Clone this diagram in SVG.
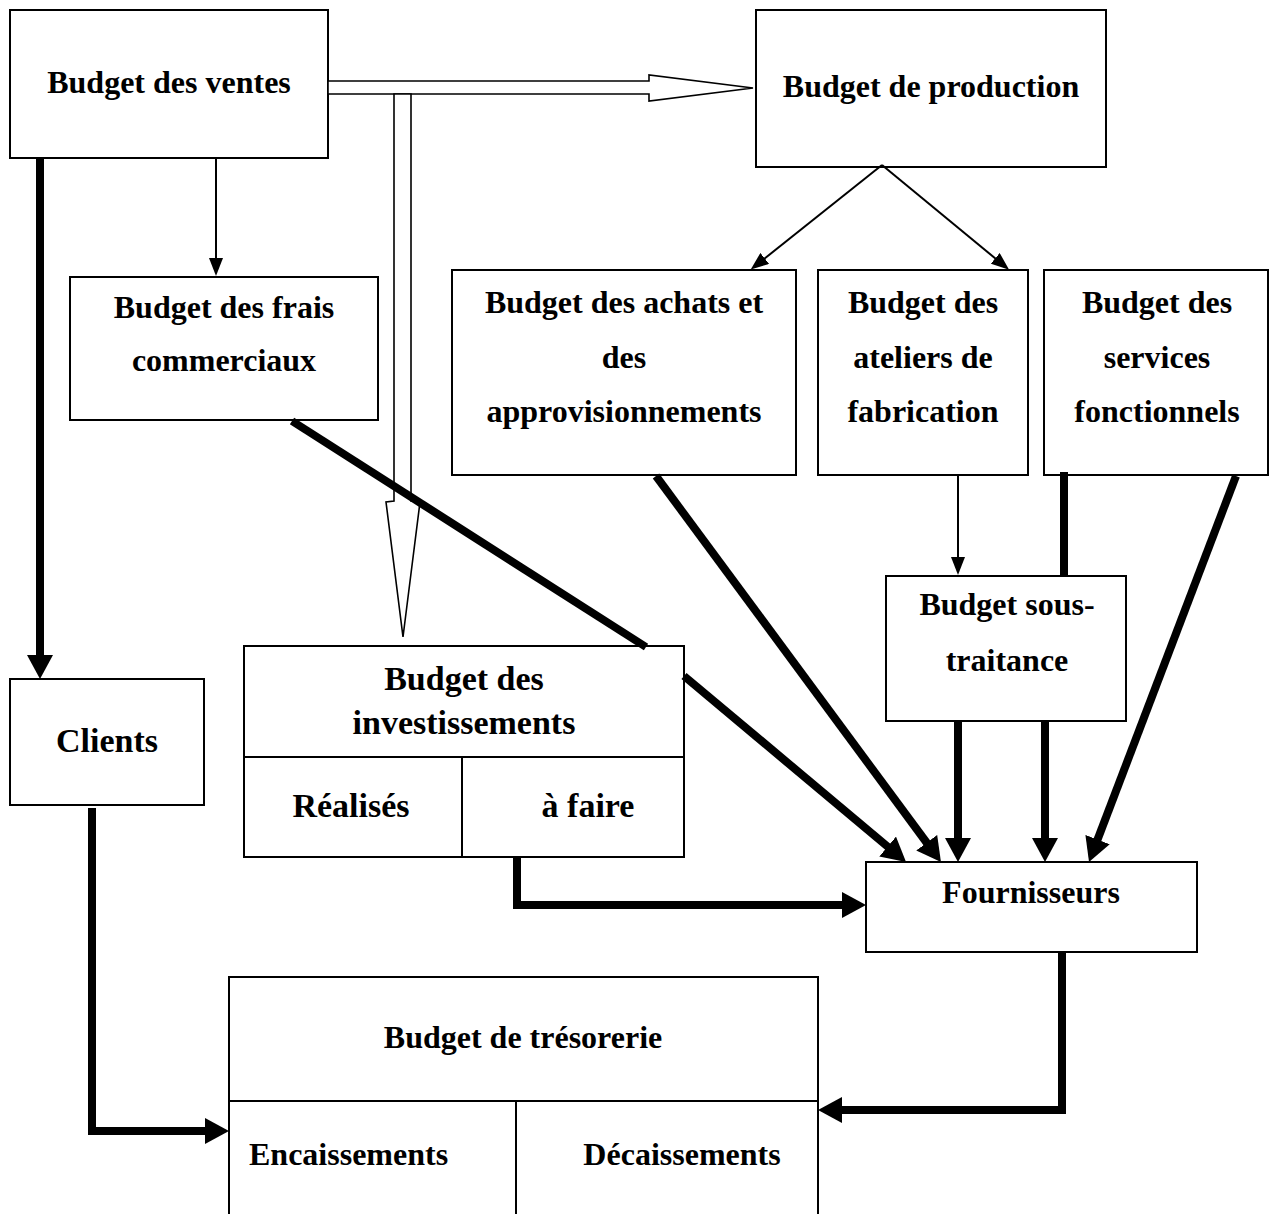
<svg xmlns="http://www.w3.org/2000/svg" width="1275" height="1214" viewBox="0 0 1275 1214">
  <style>
    .box { fill: #fff; stroke: #000; stroke-width: 2; }
    .div { fill: none; stroke: #000; stroke-width: 2; }
    .lbl { font-family: "Liberation Serif", "Times New Roman", serif; font-weight: bold; font-size: 32px; fill: #000; text-anchor: middle; }
    .big { font-size: 34px; }
    .start { text-anchor: start; }
    .thin { fill: none; stroke: #000; stroke-width: 2; marker-end: url(#headSmall); }
    .thick { fill: none; stroke: #000; stroke-width: 8; stroke-linejoin: miter; }
    .thick.arr { marker-end: url(#headBig); }
    .hollow { fill: #fff; stroke: #000; stroke-width: 1.6; stroke-linejoin: miter; }
  </style>
  <defs>
    <marker id="headBig" markerUnits="userSpaceOnUse" markerWidth="24" markerHeight="26" viewBox="0 0 24 26" refX="1" refY="13" orient="auto">
      <path d="M0,0 L24,13 L0,26 Z" fill="#000"/>
    </marker>
    <marker id="headSmall" markerUnits="userSpaceOnUse" markerWidth="18" markerHeight="14" viewBox="0 0 18 14" refX="1" refY="7" orient="auto">
      <path d="M0,0 L18,7 L0,14 Z" fill="#000"/>
    </marker>
  </defs>

  <rect width="1275" height="1214" fill="#fff"/>

  <!-- boxes -->
  <g id="ventes">
    <rect class="box" x="10" y="10" width="318" height="148"/>
    <text class="lbl" x="169" y="93">Budget des ventes</text>
  </g>
  <g id="production">
    <rect class="box" x="756" y="10" width="350" height="157"/>
    <text class="lbl" x="931" y="97">Budget de production</text>
  </g>
  <g id="frais-commerciaux">
    <rect class="box" x="70" y="277" width="308" height="143"/>
    <text class="lbl" x="224" y="318">Budget des frais</text>
    <text class="lbl" x="224" y="371">commerciaux</text>
  </g>
  <g id="achats">
    <rect class="box" x="452" y="270" width="344" height="205"/>
    <text class="lbl" x="624" y="313">Budget des achats et</text>
    <text class="lbl" x="624" y="368">des</text>
    <text class="lbl" x="624" y="422">approvisionnements</text>
  </g>
  <g id="ateliers">
    <rect class="box" x="818" y="270" width="210" height="205"/>
    <text class="lbl" x="923" y="313">Budget des</text>
    <text class="lbl" x="923" y="368">ateliers de</text>
    <text class="lbl" x="923" y="422">fabrication</text>
  </g>
  <g id="services">
    <rect class="box" x="1044" y="270" width="224" height="205"/>
    <text class="lbl" x="1157" y="313">Budget des</text>
    <text class="lbl" x="1157" y="368">services</text>
    <text class="lbl" x="1157" y="422">fonctionnels</text>
  </g>
  <g id="sous-traitance">
    <rect class="box" x="886" y="576" width="240" height="145"/>
    <text class="lbl" x="1007" y="615">Budget sous-</text>
    <text class="lbl" x="1007" y="671">traitance</text>
  </g>
  <g id="clients">
    <rect class="box" x="10" y="679" width="194" height="126"/>
    <text class="lbl big" x="107" y="752">Clients</text>
  </g>
  <g id="investissements">
    <rect class="box" x="244" y="646" width="440" height="211"/>
    <line class="div" x1="244" y1="757" x2="684" y2="757"/>
    <line class="div" x1="462" y1="757" x2="462" y2="857"/>
    <text class="lbl big" x="464" y="690">Budget des</text>
    <text class="lbl big" x="464" y="734">investissements</text>
    <text class="lbl big" x="351" y="817">Réalisés</text>
    <text class="lbl big" x="588" y="817">à faire</text>
  </g>
  <g id="fournisseurs">
    <rect class="box" x="866" y="862" width="331" height="90"/>
    <text class="lbl" x="1031" y="903">Fournisseurs</text>
  </g>
  <g id="tresorerie">
    <rect class="box" x="229" y="977" width="589" height="260"/>
    <line class="div" x1="229" y1="1101" x2="818" y2="1101"/>
    <line class="div" x1="516" y1="1101" x2="516" y2="1214"/>
    <text class="lbl" x="523" y="1048">Budget de trésorerie</text>
    <text class="lbl start" x="249" y="1165">Encaissements</text>
    <text class="lbl" x="682" y="1165">Décaissements</text>
  </g>

  <!-- connectors -->
  <g id="connectors">
    <!-- hollow block arrows from the sales budget -->
    <polygon class="hollow" points="328,81 649,81 649,75 753,88 649,101 649,94 328,94"/>
    <polygon class="hollow" points="394,94 411,94 411,501 420,502 403,637 386,502 394,501"/>

    <!-- thin arrows -->
    <path class="thin" d="M216,158 V259"/>
    <path class="thin" d="M882,165 L764,259"/>
    <path class="thin" d="M882,165 L996,259"/>
    <path class="thin" d="M958,475 V558"/>

    <!-- thick flows -->
    <path class="thick arr" d="M40,158 V656"/>
    <path class="thick" d="M292,421 L646,647"/>
    <path class="thick arr" d="M684,676 L888.4,847.2"/>
    <path class="thick arr" d="M656,476 L927.3,843.5"/>
    <path class="thick arr" d="M958,721 V839"/>
    <path class="thick arr" d="M1045,721 V839"/>
    <path class="thick" d="M1064,472 V576"/>
    <path class="thick arr" d="M1236,476 L1097.2,840.5"/>
    <path class="thick arr" d="M517,857 V905 H843"/>
    <path class="thick arr" d="M92,808 V1131 H206"/>
    <path class="thick arr" d="M1062,952 V1110 H841"/>
  </g>
</svg>
